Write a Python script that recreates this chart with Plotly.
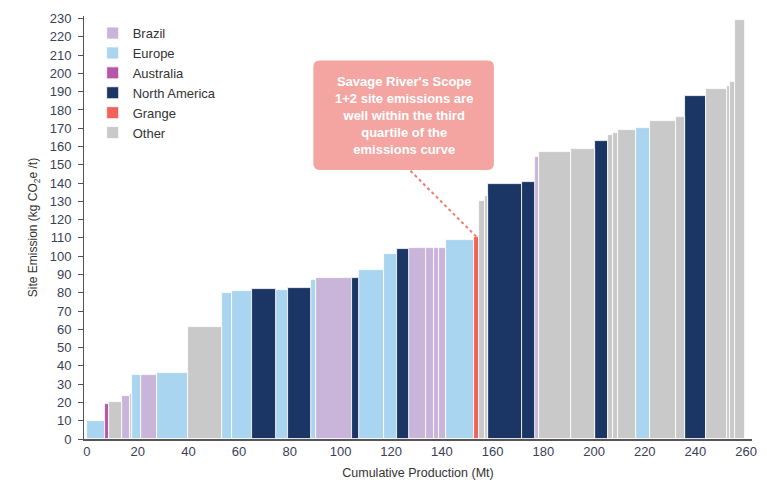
import plotly.graph_objects as go
import numpy as np

# ---- data: production (Mt, bar widths), site emissions (kg CO2e/t), region ----
production = [7.3, 1.3, 5.4, 2.8, 1.1, 3.3, 6.6, 12.1, 13.2, 4.0,
              7.9, 9.7, 4.6, 9.2, 2.0, 14.1, 2.7, 9.7, 5.3, 4.9,
              6.7, 2.8, 2.3, 2.7, 11.0, 2.0, 2.2, 1.1, 13.7, 5.1,
              1.5, 12.6, 9.3, 5.3, 1.8, 2.2, 7.1, 5.4, 10.3, 3.7,
              8.0, 8.4, 1.1, 1.9, 4.0]
emission = [10, 19, 20.5, 23.5, 24.5, 34.8, 35.2, 36, 61.5, 79.6,
            81, 82, 81.5, 82.6, 87, 88, 88.2, 92.2, 101.3, 104,
            104.6, 104.6, 104.6, 104.6, 109, 110.5, 130, 133, 139.3, 140.5,
            154, 157.2, 158.6, 163, 166.3, 167.5, 168.8, 170.3, 174.2, 176.3,
            187.8, 191.3, 193.2, 195.5, 229]
region = ["Europe", "Australia", "Other", "Brazil", "Other", "Europe", "Brazil", "Europe", "Other", "Europe",
          "Europe", "North America", "Europe", "North America", "Europe", "Brazil", "North America", "Europe", "Europe", "North America",
          "Brazil", "Brazil", "Brazil", "Brazil", "Europe", "Grange", "Other", "Other", "North America", "North America",
          "Brazil", "Other", "Other", "North America", "Other", "Other", "Other", "Europe", "Other", "Other",
          "North America", "Other", "Other", "Other", "Other"]

legend_order = ["Brazil", "Europe", "Australia", "North America", "Grange", "Other"]
colors = {"Brazil": "#c9b5d9", "Europe": "#a9d5f0", "Australia": "#b556a9",
          "North America": "#1b3564", "Grange": "#f0625a", "Other": "#c9c9c9"}

y_ticks = list(range(0, 231, 10))
x_ticks = list(range(0, 261, 20))

annot_text = ("Savage River's Scope<br>1+2 site emissions are<br>well within the third"
              "<br>quartile of the<br>emissions curve")

FONT = "Liberation Sans, Arial, sans-serif"

prod = np.array(production, dtype=float)
left = np.concatenate([[0], np.cumsum(prod)[:-1]])
centers = left + prod / 2
emis = np.array(emission, dtype=float)
reg = np.array(region)

fig = go.Figure()
for r in legend_order:
    m = reg == r
    fig.add_trace(go.Bar(
        x=centers[m], y=emis[m], width=prod[m], name=r,
        marker=dict(color=colors[r], line=dict(color="white", width=0.8)),
        hovertemplate="%{y}<extra>" + r + "</extra>",
    ))

# callout box (rounded) in data coordinates
bx0, bx1, by0, by1 = 89.3, 160.5, 147.2, 207.0
rx, ry = 2.5, 3.5
path = (f"M{bx0+rx},{by0} L{bx1-rx},{by0} Q{bx1},{by0} {bx1},{by0+ry} "
        f"L{bx1},{by1-ry} Q{bx1},{by1} {bx1-rx},{by1} L{bx0+rx},{by1} "
        f"Q{bx0},{by1} {bx0},{by1-ry} L{bx0},{by0+ry} Q{bx0},{by0} {bx0+rx},{by0} Z")
fig.add_shape(type="path", path=path, xref="x", yref="y",
              fillcolor="#f4a5a1", line=dict(width=0), layer="above")

# dotted pointer to Grange bar
gi = region.index("Grange")
fig.add_shape(type="line", xref="x", yref="y",
              x0=127.6, y0=by0 - 0.5, x1=centers[gi], y1=emis[gi],
              line=dict(color="#f07a72", width=2, dash="dot"))

fig.add_annotation(x=(bx0 + bx1) / 2, y=(by0 + by1) / 2, xref="x", yref="y",
                   text="<b>" + annot_text + "</b>", showarrow=False,
                   font=dict(family=FONT, size=13, color="white"), align="center")

fig.update_layout(
    width=767, height=491,
    margin=dict(l=84, r=10, t=16, b=52),
    paper_bgcolor="white", plot_bgcolor="white",
    barmode="overlay", bargap=0,
    font=dict(family=FONT, color="#333333"),
    showlegend=True,
    legend=dict(x=0.013, y=0.995, xanchor="left", yanchor="top",
                font=dict(family=FONT, size=13, color="#333333"),
                bgcolor="rgba(0,0,0,0)", traceorder="normal", tracegroupgap=0),
    xaxis=dict(range=[-1.17, 262.3], tickvals=x_ticks, ticktext=[str(v) for v in x_ticks],
               showgrid=False, zeroline=False, showline=True, linecolor="#555555", linewidth=1.5,
               ticks="", tickfont=dict(family=FONT, size=13, color="#3a4058"),
               title=dict(text="Cumulative Production (Mt)", standoff=10,
                          font=dict(family=FONT, size=12.5, color="#333333"))),
    yaxis=dict(range=[0, 231.4], tickvals=y_ticks, ticktext=[str(v) for v in y_ticks],
               showgrid=False, zeroline=False, showline=True, linecolor="#555555", linewidth=1,
               ticks="outside", ticklen=5, tickcolor="#555555", ticklabelstandoff=4,
               tickfont=dict(family=FONT, size=13, color="#3a4058"),
               title=dict(text="Site Emission (kg CO<sub>2</sub>e /t)", standoff=9,
                          font=dict(family=FONT, size=12, color="#333333"))),
)

fig.write_html("out.html")
